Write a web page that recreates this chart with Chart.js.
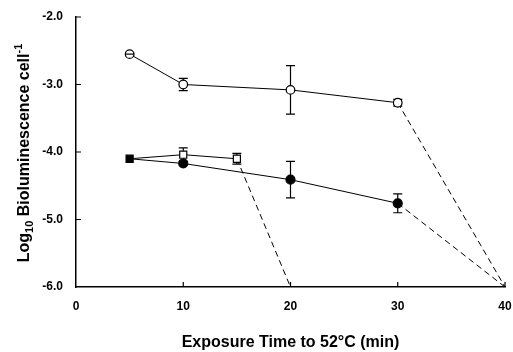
<!DOCTYPE html>
<html>
<head>
    <title>Bioluminescence vs exposure time</title>
    <script src="https://cdn.jsdelivr.net/npm/chart.js"></script>
    <style>
        html, body { margin: 0; padding: 0; background: #fff; }
        #wrap { width: 513px; height: 352px; }
    </style>
</head>
<body>
    <div id="wrap"><canvas id="bioChart"></canvas></div>

    <script>
    // Values
    const openTimes = [5, 10, 20, 30, 40];
    const openValues = [-2.55, -3.0, -3.08, -3.27, -6.0];
    const openErrors = [0.02, 0.09, 0.36, 0.05, 0];

    const squareTimes = [5, 10, 15, 20];
    const squareValues = [-4.1, -4.04, -4.1, -6.0];
    const squareErrors = [0, 0.1, 0.08, 0];

    const filledTimes = [5, 10, 20, 30, 40];
    const filledValues = [-4.1, -4.17, -4.41, -4.76, -6.0];
    const filledErrors = [0, 0, 0.27, 0.14, 0];

    const xTicks = [10, 20, 30, 40];
    const yTicks = [-2, -3, -4, -5];

    const FONT = "'Liberation Sans', Arial, sans-serif";

    function toPoints(xs, ys) {
        return xs.map((x, i) => ({ x: x, y: ys[i] }));
    }

    // last point is only the end of the dashed extrapolation
    function radii(n, r) {
        return Array.from({ length: n }, (_, i) => i === n - 1 ? 0 : r);
    }

    function dashLast(n) {
        return { borderDash: ctx => ctx.p1DataIndex === n - 1 ? [6, 4] : [] };
    }

    const errorSets = [openErrors, squareErrors, filledErrors];

    // error bars drawn under the markers
    const errorBars = {
        id: 'errorBars',
        beforeDatasetsDraw(chart) {
            const { ctx, scales: { x, y } } = chart;
            ctx.save();
            ctx.strokeStyle = '#000';
            ctx.lineWidth = 1.2;
            chart.data.datasets.forEach((ds, di) => {
                const errs = errorSets[di];
                ds.data.forEach((p, i) => {
                    const e = errs[i];
                    if (!e) return;
                    const px = x.getPixelForValue(p.x);
                    const top = y.getPixelForValue(p.y + e);
                    const bot = y.getPixelForValue(p.y - e);
                    ctx.beginPath();
                    ctx.moveTo(px, top); ctx.lineTo(px, bot);
                    ctx.moveTo(px - 4.5, top); ctx.lineTo(px + 4.5, top);
                    ctx.moveTo(px - 4.5, bot); ctx.lineTo(px + 4.5, bot);
                    ctx.stroke();
                });
            });
            ctx.restore();
        },
        afterDatasetsDraw(chart) {
            // tiny error at the first open circle shows as a bar across it
            const { ctx, scales: { x, y } } = chart;
            const px = x.getPixelForValue(openTimes[0]);
            const py = y.getPixelForValue(openValues[0]);
            ctx.save();
            ctx.strokeStyle = '#000';
            ctx.lineWidth = 1.2;
            ctx.beginPath();
            ctx.moveTo(px - 4.5, py); ctx.lineTo(px + 4.5, py);
            ctx.stroke();
            ctx.restore();
        }
    };

    // inward tick marks and axis titles
    const decorations = {
        id: 'decorations',
        afterDraw(chart) {
            const { ctx, chartArea, scales: { x, y } } = chart;
            ctx.save();
            ctx.strokeStyle = '#000';
            ctx.lineWidth = 1.2;
            ctx.beginPath();
            xTicks.forEach(v => {
                const px = x.getPixelForValue(v);
                ctx.moveTo(px, chartArea.bottom);
                ctx.lineTo(px, chartArea.bottom - 5);
            });
            yTicks.forEach(v => {
                const py = y.getPixelForValue(v);
                ctx.moveTo(chartArea.left, py);
                ctx.lineTo(chartArea.left + 5, py);
            });
            ctx.stroke();

            ctx.fillStyle = '#000';
            ctx.textBaseline = 'alphabetic';

            // x title
            ctx.font = 'bold 16px ' + FONT;
            ctx.textAlign = 'center';
            ctx.fillText('Exposure Time to 52°C (min)', (chartArea.left + chartArea.right) / 2, 347);

            // y title with subscript and superscript
            const parts = [
                { t: 'Log', size: 16, dy: 0 },
                { t: '10', size: 11, dy: 4 },
                { t: ' Bioluminescence cell', size: 16, dy: 0 },
                { t: '-1', size: 11, dy: -7 }
            ];
            let total = 0;
            parts.forEach(p => {
                ctx.font = 'bold ' + p.size + 'px ' + FONT;
                p.w = ctx.measureText(p.t).width;
                total += p.w;
            });
            ctx.translate(29, 153);
            ctx.rotate(-Math.PI / 2);
            ctx.textAlign = 'left';
            let cx = -total / 2;
            parts.forEach(p => {
                ctx.font = 'bold ' + p.size + 'px ' + FONT;
                ctx.fillText(p.t, cx, p.dy);
                cx += p.w;
            });
            ctx.restore();
        }
    };

    const lineBase = {
        borderColor: '#000',
        borderWidth: 1,
        pointBorderColor: '#000',
        pointBorderWidth: 1.2,
        tension: 0,
        fill: false
    };

    new Chart(document.getElementById('bioChart'), {
        type: 'line',
        data: {
            datasets: [
                Object.assign({}, lineBase, {
                    label: 'open circles',
                    data: toPoints(openTimes, openValues),
                    pointStyle: 'circle',
                    pointRadius: radii(openTimes.length, 4.3),
                    pointBackgroundColor: '#fff',
                    segment: dashLast(openTimes.length)
                }),
                Object.assign({}, lineBase, {
                    label: 'open squares',
                    data: toPoints(squareTimes, squareValues),
                    pointStyle: 'rect',
                    pointRadius: radii(squareTimes.length, 5),
                    pointBackgroundColor: squareTimes.map((_, i) => i === 0 ? '#000' : '#fff'),
                    segment: dashLast(squareTimes.length)
                }),
                Object.assign({}, lineBase, {
                    label: 'filled circles',
                    data: toPoints(filledTimes, filledValues),
                    pointStyle: 'circle',
                    pointRadius: radii(filledTimes.length, 4.5).map((r, i) => i === 0 ? 0 : r),
                    pointBackgroundColor: '#000',
                    segment: dashLast(filledTimes.length)
                })
            ]
        },
        options: {
            responsive: true,
            maintainAspectRatio: false,
            animation: false,
            layout: { padding: { left: 0, right: 8, top: 17, bottom: 0 } },
            plugins: {
                legend: { display: false },
                tooltip: { enabled: false }
            },
            scales: {
                x: {
                    type: 'linear',
                    min: 0,
                    max: 40,
                    ticks: {
                        stepSize: 10,
                        padding: 12,
                        color: '#000',
                        font: { family: FONT, size: 12, weight: 'bold' }
                    },
                    grid: { drawOnChartArea: false, drawTicks: false },
                    border: { display: true, color: '#000', width: 1.5 },
                    afterFit(scale) {
                        scale.height = 65;
                        scale.paddingLeft = 0;
                        scale.paddingRight = 0;
                    }
                },
                y: {
                    type: 'linear',
                    min: -6,
                    max: -2,
                    ticks: {
                        stepSize: 1,
                        padding: 13,
                        color: '#000',
                        font: { family: FONT, size: 12, weight: 'bold' },
                        callback: v => v.toFixed(1)
                    },
                    grid: { drawOnChartArea: false, drawTicks: false },
                    border: { display: true, color: '#000', width: 1.5 },
                    afterFit(scale) {
                        scale.width = 76;
                        scale.paddingTop = 0;
                        scale.paddingBottom = 0;
                    }
                }
            }
        },
        plugins: [errorBars, decorations]
    });
    </script>
</body>
</html>
